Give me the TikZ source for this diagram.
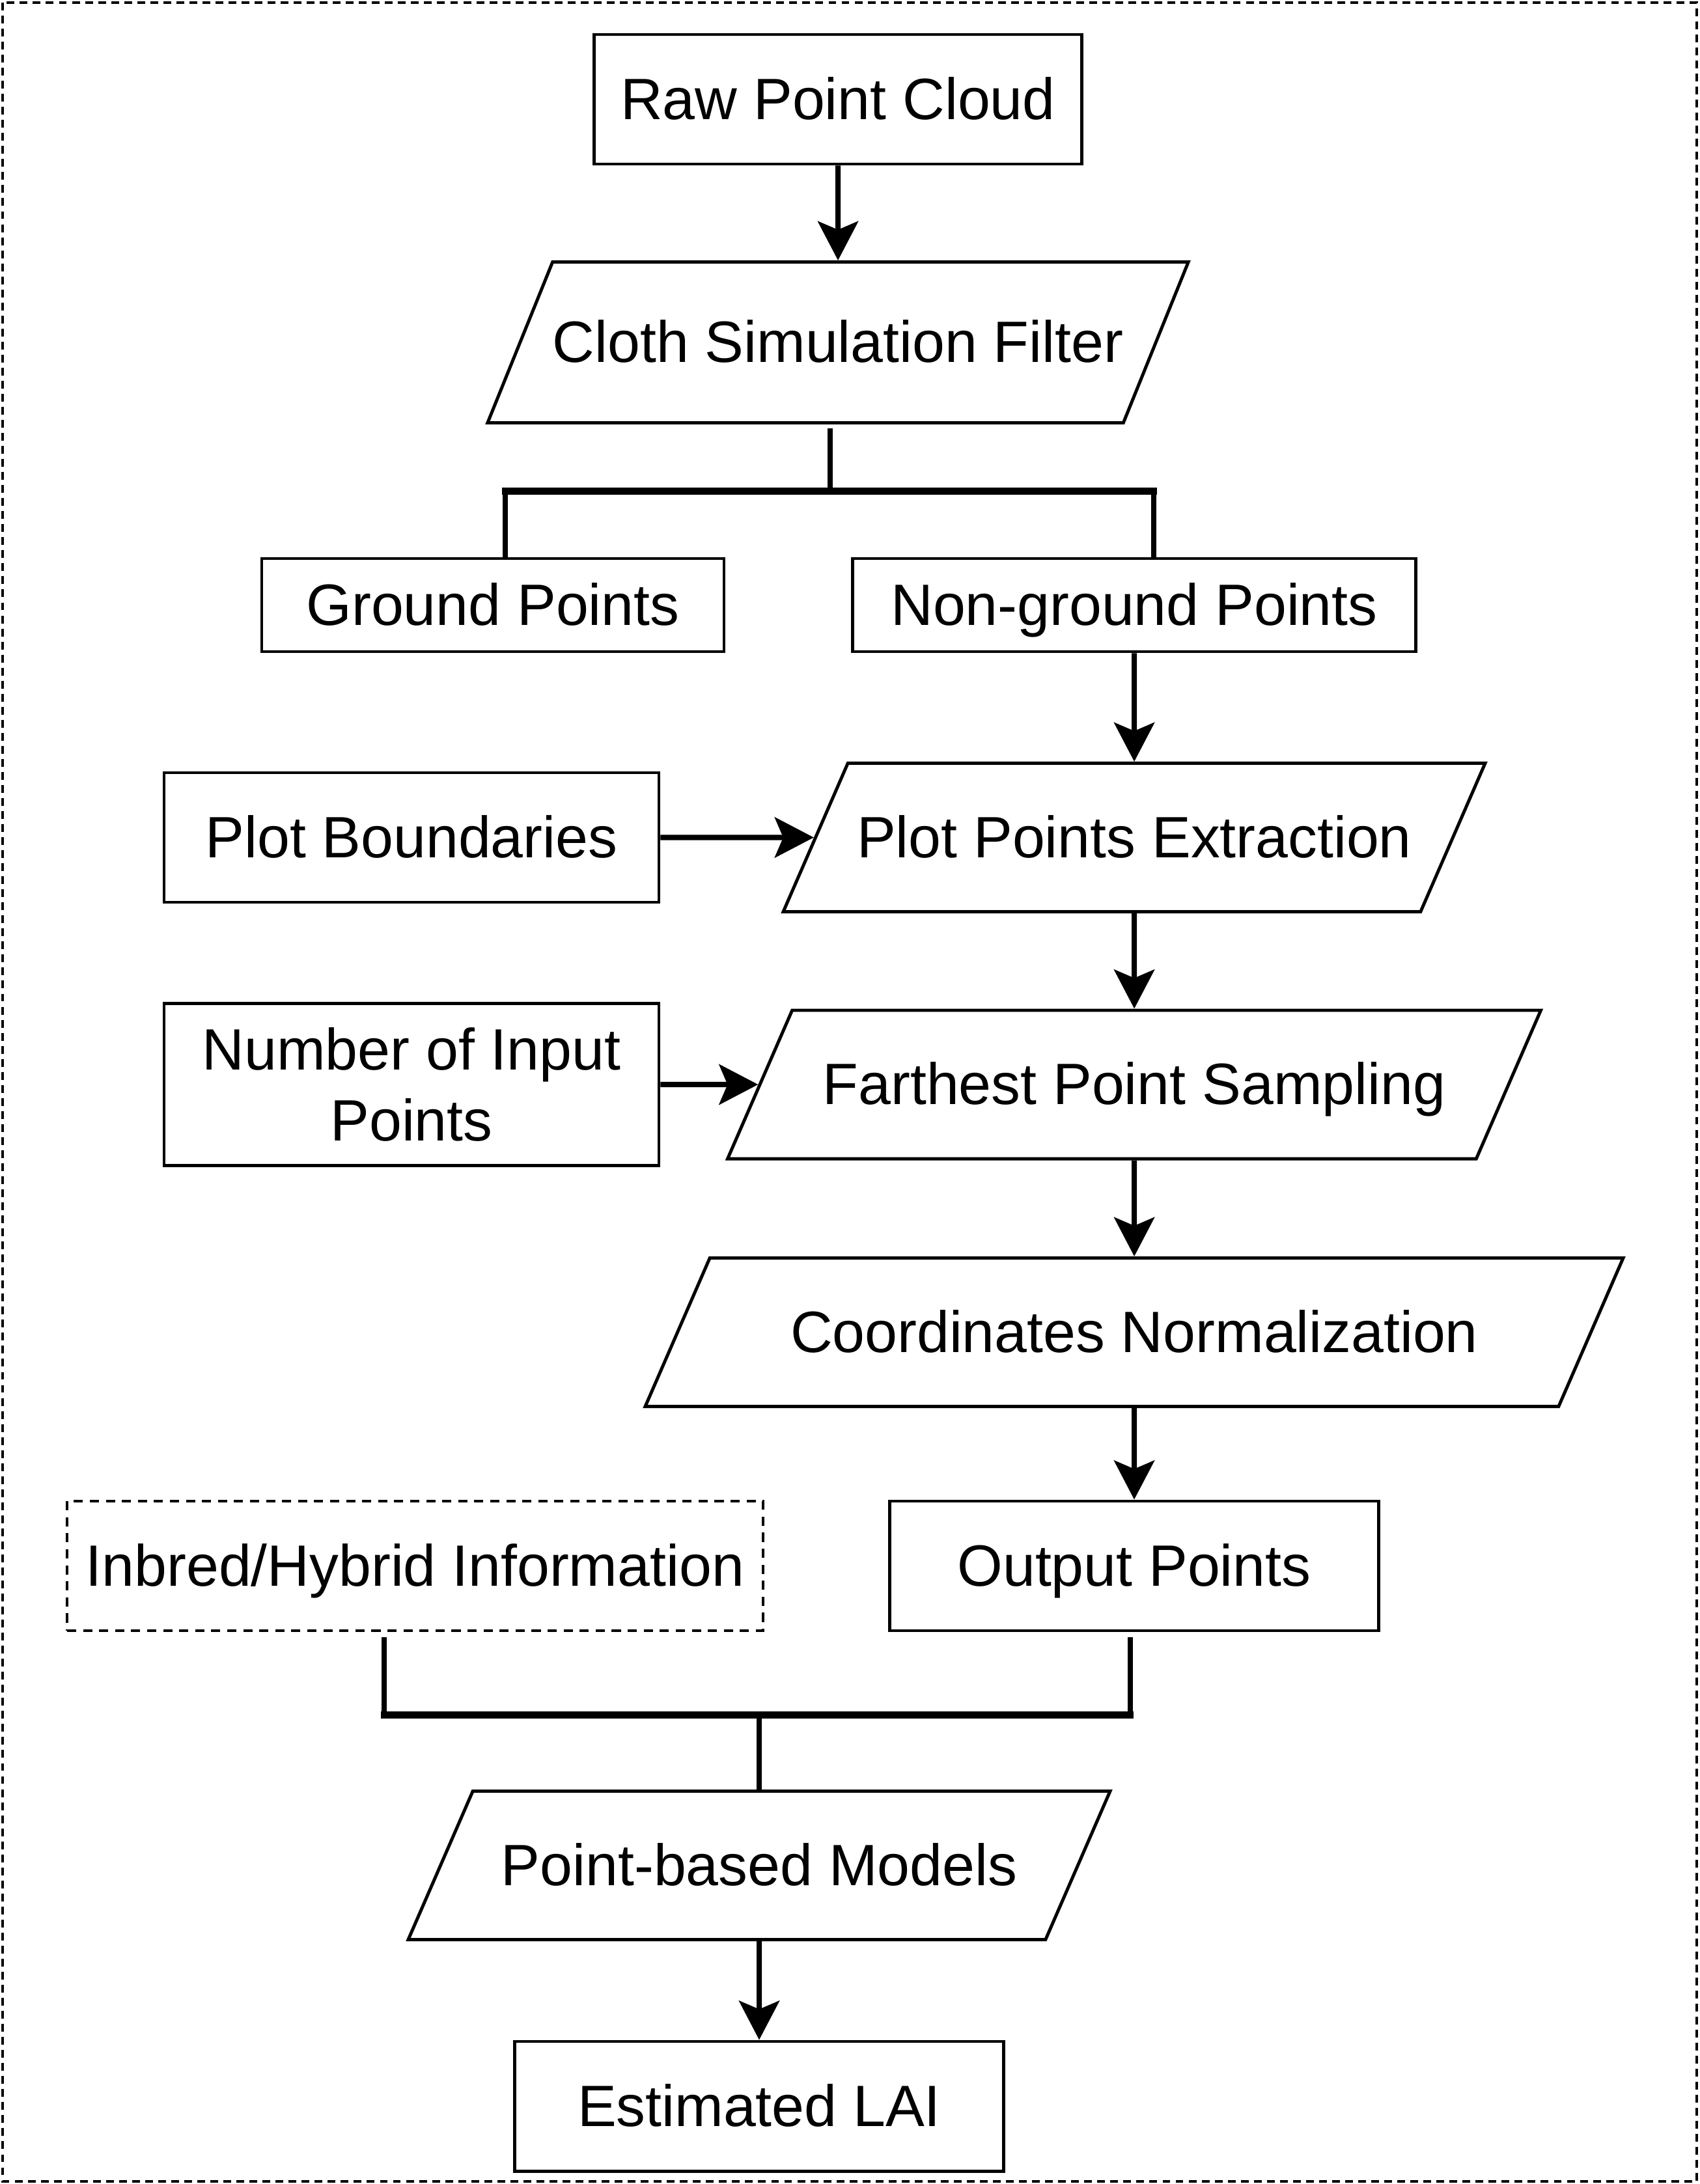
\documentclass[tikz,border=0pt]{standalone}
\usepackage{fontspec}
\setmainfont{Liberation Sans}
\usetikzlibrary{arrows.meta,shapes.geometric}

\begin{document}
\begin{tikzpicture}[>={Stealth[length=6mm,width=6.2mm,inset=1.3mm]},line join=miter,
  font=\fontsize{25.5}{31}\selectfont,
  box/.style={draw,line width=1.4pt,minimum width=#1,minimum height=1.99cm,inner sep=0pt,
    text height=23pt,text depth=5.4pt,align=center},
  para/.style={draw,line width=1.4pt,trapezium,trapezium left angle=66.5,trapezium right angle=113.5,
    trapezium stretches body,minimum width=#1,inner xsep=0pt,inner ysep=18.25pt,
    text height=23pt,text depth=5.4pt},
  link/.style={line width=2.3pt},
  bar/.style={line width=3pt,line cap=rect}]
\useasboundingbox (0,0) rectangle (26.1,-33.55);
\draw[line width=1.2pt,dash pattern=on 3.4pt off 2.3pt] (0.04,-0.04) rectangle (26.06,-33.51);

\node[box=7.49cm] (raw) at (12.87,-1.525) {Raw Point Cloud};
\node[para=10.72cm,inner ysep=20.95pt,trapezium left angle=68,trapezium right angle=112] (csf) at (12.87,-5.26) {Cloth Simulation Filter};
\node[box=7.10cm,minimum height=1.43cm] (ground) at (7.57,-9.295) {Ground Points};
\node[box=8.65cm,minimum height=1.43cm] (nonground) at (17.42,-9.295) {Non-ground Points};
\node[box=7.6cm] (plotb) at (6.32,-12.865) {Plot Boundaries};
\node[para=10.78cm] (ppe) at (17.42,-12.865) {Plot Points Extraction};
\node[box=7.6cm,minimum height=2.49cm,text height={},text depth={}] (nip) at (6.32,-16.66) {Number of Input\\Points};
\node[para=12.49cm] (fps) at (17.42,-16.66) {Farthest Point Sampling};
\node[para=15.02cm] (cn) at (17.42,-20.465) {Coordinates Normalization};
\node[box=7.51cm] (outp) at (17.42,-24.055) {Output Points};
\node[box=10.69cm,dash pattern=on 4pt off 3pt] (inbred) at (6.375,-24.055) {Inbred/Hybrid Information};
\node[para=10.78cm] (pbm) at (11.66,-28.655) {Point-based Models};
\node[box=7.51cm] (lai) at (11.66,-32.355) {Estimated LAI};

\draw[link,->] (raw) -- (csf);
% ground / non-ground split
\draw[link] ([xshift=1.9mm]ground.north) -- ++(0,1.01) coordinate (gtop);
\draw[link] ([xshift=3mm]nonground.north) -- ++(0,1.01) coordinate (ntop);
\draw[bar] (gtop) -- (ntop);
\draw[link] ([xshift=-1.2mm,yshift=-0.6mm]csf.south) -- ([xshift=-1.2mm]csf.south |- gtop);
\draw[link,->] (nonground) -- (ppe);
\draw[link,->] (plotb) -- (ppe);
\draw[link,->] (ppe) -- (fps);
\draw[link,->] (nip) -- (fps);
\draw[link,->] (fps) -- (cn);
\draw[link,->] (cn) -- (outp);
% join into the models
\draw[link] ([xshift=-4.75mm,yshift=-0.8mm]inbred.south) -- ++(0,-1.19) coordinate (ifoot);
\draw[link] ([xshift=-0.6mm,yshift=-0.8mm]outp.south) -- ++(0,-1.19) coordinate (ofoot);
\draw[bar] (ifoot) -- (ofoot);
\draw[link] (pbm.north |- ifoot) -- (pbm.north);
\draw[link,->] (pbm) -- (lai);
\end{tikzpicture}
\end{document}
